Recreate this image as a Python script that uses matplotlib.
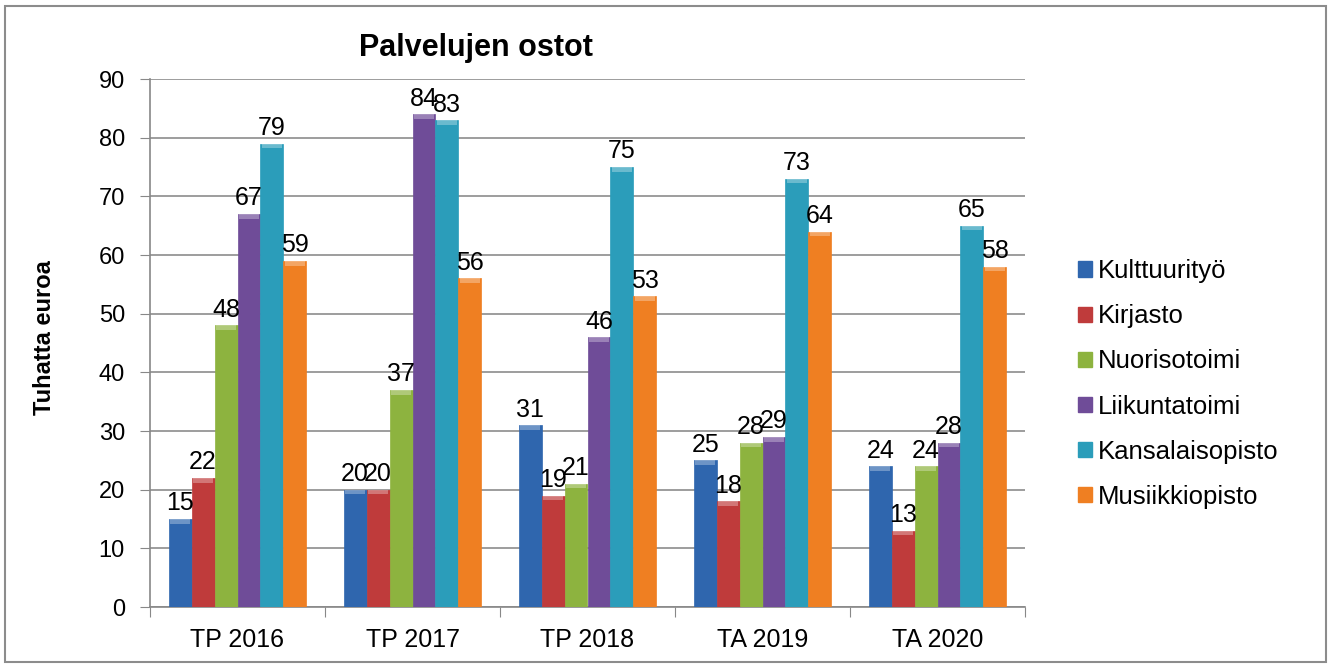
import matplotlib.pyplot as plt
import matplotlib.patches as mpatches
import numpy as np

plt.rcParams['font.family'] = ['Liberation Sans', 'DejaVu Sans']

years = ['TP 2016', 'TP 2017', 'TP 2018', 'TA 2019', 'TA 2020']
series = ['Kulttuurityö', 'Kirjasto', 'Nuorisotoimi', 'Liikuntatoimi',
          'Kansalaisopisto', 'Musiikkiopisto']
kulttuuri = [15, 20, 31, 25, 24]
kirjasto = [22, 20, 19, 18, 13]
nuoriso = [48, 37, 21, 28, 24]
liikunta = [67, 84, 46, 29, 28]
kansalais = [79, 83, 75, 73, 65]
musiikki = [59, 56, 53, 64, 58]
values = [kulttuuri, kirjasto, nuoriso, liikunta, kansalais, musiikki]
colors = ['#2F66AE', '#BF3B3B', '#8DB33F', '#6F4C98', '#2B9DBA', '#EF7F22']

fig = plt.figure(figsize=(13.32, 6.68), dpi=100)
ax = fig.add_axes([150/1332, 1 - 607/668, 875/1332, 528/668])

x = np.arange(len(years))
w = 0.131
for i, (vals, c) in enumerate(zip(values, colors)):
    pos = x + (i - 2.5) * w
    ax.bar(pos, vals, w, color=c, edgecolor=c, linewidth=0.5, label=series[i], zorder=3)
    # light bevel highlight on the top of each bar
    ax.bar(pos, [0.8] * len(vals), w * 0.85, bottom=np.array(vals) - 0.8,
           color='white', alpha=0.3, zorder=4, linewidth=0)
    for p, v in zip(pos, vals):
        ax.text(p, v + 0.6, str(v), ha='center', va='bottom', fontsize=18, zorder=5)

ax.set_xlim(-0.5, len(years) - 0.5)
ax.set_ylim(0, 90)
ax.set_yticks(range(0, 91, 10))
ax.set_xticks(np.arange(-0.5, len(years), 1.0), minor=False)
ax.set_xticklabels([])
ax.set_xticks(x, minor=True)
ax.set_xticklabels(years, minor=True)
ax.tick_params(axis='x', which='minor', length=0, labelsize=18, pad=15)
ax.tick_params(axis='x', which='major', length=7, color='#888888')
ax.tick_params(axis='y', length=7, color='#888888', labelsize=17, pad=11)
ax.grid(axis='y', color='#8c8c8c', linewidth=1.2, zorder=0)
for s in ['top', 'right']:
    ax.spines[s].set_visible(False)
for s in ['left', 'bottom']:
    ax.spines[s].set_color('#888888')
    ax.spines[s].set_linewidth(1.2)

fig.text(45/1332, 1 - 338/668, 'Tuhatta euroa', rotation=90, ha='center', va='center',
         fontsize=17, fontweight='bold')
fig.text(476/1332, 1 - 48/668, 'Palvelujen ostot', ha='center', va='center',
         fontsize=22, fontweight='bold')

handles = [mpatches.Patch(color=c) for c in colors]
fig.legend(handles, series, loc='center left', bbox_to_anchor=(1068/1332, 1 - 384/668),
           frameon=False, fontsize=18.5, handlelength=0.55, handleheight=0.55,
           handletextpad=0.2, labelspacing=0.82, borderaxespad=0)

fig.patches.append(mpatches.Rectangle((5/1332, 6/668), 1321/1332, 656/668,
                                      transform=fig.transFigure, fill=False,
                                      edgecolor='#8c8c8c', linewidth=1.5))

fig.savefig('out.png', dpi=100)
